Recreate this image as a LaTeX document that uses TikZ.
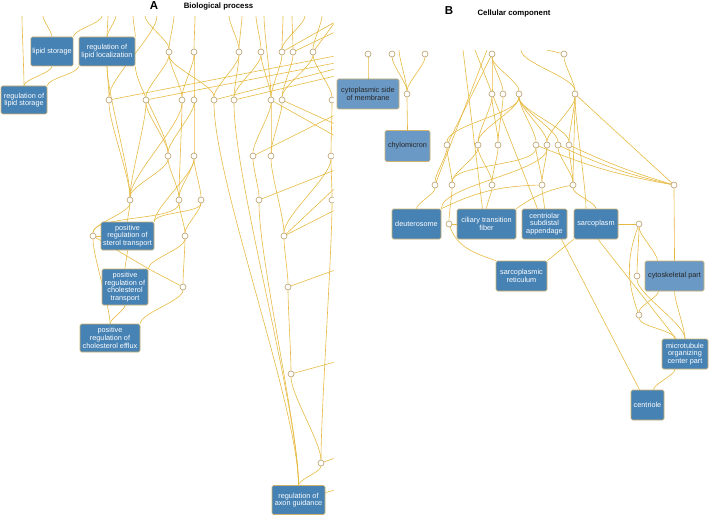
\documentclass[tikz,border=0pt]{standalone}
\usepackage{fontspec}
\setmainfont{Liberation Sans}
\usetikzlibrary{backgrounds}

\definecolor{edgegold}{RGB}{230,186,66}
\definecolor{dotrim}{RGB}{184,156,104}
\definecolor{termblue}{RGB}{70,130,180}
\definecolor{termlight}{RGB}{106,153,197}
\definecolor{termrim}{RGB}{208,178,110}

\tikzset{
  term/.style={draw=termrim, fill=termblue, text=white, rounded corners=1.5pt,
    line width=0.6pt, font=\fontsize{7.3}{7.7}\selectfont, align=center,
    inner sep=1.5pt, minimum height=29pt},
  termlt/.style={term, fill=termlight, text=black!85},
  dot/.style={circle, draw=dotrim, fill=white, inner sep=0pt, minimum size=6pt, line width=0.6pt},
  ed/.style={draw=edgegold, line width=0.6pt, out=-90, in=90, looseness=0.5},
  ln/.style={draw=edgegold, line width=0.6pt},
}

\begin{document}
\begin{tikzpicture}[x=1pt,y=1pt]
\useasboundingbox (0,0) rectangle (709,-516);

% titles
\node[font=\fontsize{11.5}{12}\selectfont\bfseries] (tagA) at (154,-6) {A};
\node[font=\fontsize{7.8}{8}\selectfont\bfseries] (titleA) at (218.5,-7) {Biological process};
\node[font=\fontsize{11.5}{12}\selectfont\bfseries] (tagB) at (449,-10.5) {B};
\node[font=\fontsize{7.8}{8}\selectfont\bfseries] (titleB) at (514,-13.5) {Cellular component};

% ---- A: biological process
\begin{scope}
  \clip (0,-17) rectangle (333.5,-516);
  \node[term, minimum width=42pt] (lipstor) at (52,-51.5) {lipid storage};
  \node[term, minimum width=56pt] (reglipl) at (107,-51.5) {regulation of\\lipid localization};
  \node[term, minimum width=46pt, minimum height=28pt] (reglips) at (24,-100) {regulation of\\lipid storage};
  \node[term, minimum width=53pt, minimum height=28pt] (possterol) at (127.5,-236) {positive\\regulation of\\sterol transport};
  \node[term, minimum width=46pt, minimum height=36pt] (poschol) at (125,-287) {positive\\regulation of\\cholesterol\\transport};
  \node[term, minimum width=60pt, minimum height=28pt] (poseff) at (110,-338) {positive\\regulation of\\cholesterol efflux};
  \node[term, minimum width=53pt] (axon) at (298.5,-500) {regulation of\\axon guidance};

  \node[dot] (a11) at (169,-52) {};
  \node[dot] (a12) at (194,-52) {};
  \node[dot] (a13) at (239,-52) {};
  \node[dot] (a14) at (261,-52) {};
  \node[dot] (a15) at (282,-52) {};
  \node[dot] (a16) at (293,-52) {};
  \node[dot] (a17) at (313,-52) {};
  \node[dot] (a21) at (109,-100) {};
  \node[dot] (a22) at (146,-100) {};
  \node[dot] (a23) at (182,-100) {};
  \node[dot] (a24) at (194,-100) {};
  \node[dot] (a25) at (214,-100) {};
  \node[dot] (a26) at (234,-100) {};
  \node[dot] (a27) at (271,-100) {};
  \node[dot] (a28) at (282,-100) {};
  \node[dot] (a29) at (332,-100) {};
  \node[dot] (a31) at (168,-156) {};
  \node[dot] (a32) at (194,-156) {};
  \node[dot] (a33) at (253,-156) {};
  \node[dot] (a34) at (271,-156) {};
  \node[dot] (a35) at (331,-156) {};
  \node[dot] (a41) at (130,-200) {};
  \node[dot] (a42) at (179,-200) {};
  \node[dot] (a43) at (201,-200) {};
  \node[dot] (a44) at (259,-200) {};
  \node[dot] (a45) at (332,-200) {};
  \node[dot] (a51) at (93,-236) {};
  \node[dot] (a52) at (185,-236) {};
  \node[dot] (a53) at (284,-236) {};
  \node[dot] (a61) at (183,-287) {};
  \node[dot] (a62) at (288,-287) {};
  \node[dot] (a63) at (291,-374) {};
  \node[dot] (a64) at (321,-463) {};
\end{scope}

% ---- B: cellular component
\begin{scope}
  \clip (335,-51) rectangle (709,-516);
  \node[termlt, minimum width=62pt, minimum height=30pt] (cytomem) at (368,-94) {cytoplasmic side\\of membrane};
  \node[termlt, minimum width=45pt, minimum height=31pt] (chylo) at (407.5,-146) {chylomicron};
  \node[term, minimum width=49pt, minimum height=30pt] (deut) at (416.5,-224) {deuterosome};
  \node[term, minimum width=59pt, minimum height=30pt] (cilfib) at (486.5,-224) {ciliary transition\\fiber};
  \node[term, minimum width=45pt, minimum height=30pt] (centapp) at (544.5,-224) {centriolar\\subdistal\\appendage};
  \node[term, minimum width=44pt, minimum height=30pt] (sarcop) at (596,-224) {sarcoplasm};
  \node[term, minimum width=51pt, minimum height=30pt] (sreti) at (521.5,-276) {sarcoplasmic\\reticulum};
  \node[termlt, minimum width=59pt, minimum height=30pt] (cytosk) at (674.5,-276) {cytoskeletal part};
  \node[term, minimum width=46pt, minimum height=30pt] (mtoc) at (685,-354) {microtubule\\organizing\\center part};
  \node[term, minimum width=33pt, minimum height=30pt] (centriole) at (647.5,-405) {centriole};

  \node[dot] (b11) at (368,-54) {};
  \node[dot] (b12) at (392,-54) {};
  \node[dot] (b13) at (425,-54) {};
  \node[dot] (b14) at (492,-54) {};
  \node[dot] (b15) at (564,-54) {};
  \node[dot] (b21) at (407,-94) {};
  \node[dot] (b22) at (492,-94) {};
  \node[dot] (b23) at (503,-94) {};
  \node[dot] (b24) at (519,-94) {};
  \node[dot] (b25) at (575,-94) {};
  \node[dot] (b31) at (447,-145) {};
  \node[dot] (b32) at (478,-145) {};
  \node[dot] (b33) at (498,-145) {};
  \node[dot] (b34) at (536,-145) {};
  \node[dot] (b35) at (547,-145) {};
  \node[dot] (b36) at (558,-145) {};
  \node[dot] (b37) at (569,-145) {};
  \node[dot] (b41) at (435,-185) {};
  \node[dot] (b42) at (452,-185) {};
  \node[dot] (b43) at (492,-185) {};
  \node[dot] (b44) at (542,-185) {};
  \node[dot] (b45) at (573,-185) {};
  \node[dot] (b46) at (674,-185) {};
  \node[dot] (b51) at (449,-224) {};
  \node[dot] (b52) at (639,-224) {};
  \node[dot] (b53) at (637,-276) {};
  \node[dot] (b54) at (639,-315) {};
\end{scope}

% ---- connectors (behind the nodes)
\begin{pgfonlayer}{background}
\begin{scope}
  \clip (0,-17) rectangle (333.5,-516);
  \coordinate (tA1) at (22,-16);
  \coordinate (tA2) at (43,-16);
  \coordinate (tA3) at (102,-16);
  \coordinate (tA4) at (108,-16);
  \coordinate (tA5) at (116,-16);
  \coordinate (tA6) at (133,-16);
  \coordinate (tA7) at (145,-16);
  \coordinate (tA8) at (157,-16);
  \coordinate (tA9) at (174,-16);
  \coordinate (tA10) at (195,-16);
  \coordinate (tA11) at (229,-16);
  \coordinate (tA12) at (242,-16);
  \coordinate (tA13) at (256,-16);
  \coordinate (tA14) at (264,-16);
  \coordinate (tA15) at (283,-16);
  \coordinate (tA16) at (292,-16);
  \coordinate (tA17) at (305,-16);
  \coordinate (tA18) at (322,-16);
  \coordinate (rA1) at (335,-22);
  \coordinate (rA2) at (335,-32);
  \coordinate (rA3) at (335,-56);
  \coordinate (rA4) at (335,-63);
  \coordinate (rA5) at (335,-69);
  \coordinate (rA6) at (335,-76);
  \coordinate (rA7) at (335,-115);
  \coordinate (rA8) at (335,-124);
  \coordinate (rA9) at (335,-136);
  \coordinate (rA10) at (335,-170);
  \coordinate (rA11) at (335,-188);
  \coordinate (rA12) at (335,-210);
  \coordinate (rA13) at (335,-270);
  \coordinate (rA14) at (335,-362);
  \coordinate (rA15) at (335,-458);
  \coordinate (rA16) at (335,-490);

  \draw[ed] (tA1) to (reglips);
  \draw[ed] (tA2) to (lipstor);
  \draw[ed] (tA3) to (lipstor.north east);
  \draw[ed] (lipstor) to (reglips);
  \draw[ed] (reglipl.south west) to (reglips.north east);
  \draw[ed] (tA4) to (reglipl);
  \draw[ed] (tA5) to (reglipl);
  \draw[ed] (tA6) to (reglipl.north east);
  \draw[ed] (reglipl) to (a21);
  \draw[ed] (reglipl.south east) to (a31);
  \draw[ed] (reglipl) to (a41);

  \draw[ed] (tA7) to (a11);
  \draw[ed] (tA9) to (a11);
  \draw[ed] (tA10) to (a12);
  \draw[ed] (tA8) to (a21);
  \draw[ed] (a11) to (a22);
  \draw[ed] (a11) to (a23);
  \draw[ed] (a11) to (a25);
  \draw[ed] (a12) to (a23);
  \draw[ed] (a12) to (a24);
  \draw[ed] (tA11) to (a13);
  \draw[ed] (tA12) to (a13);
  \draw[ed] (tA13) to (a14);
  \draw[ed] (tA14) to (a27);
  \draw[ed] (tA15) to (a15);
  \draw[ed] (tA16) to (a16);
  \draw[ed] (tA17) to (a15);
  \draw[ed] (tA18) to (a17);
  \draw[ln] (a15) -- (rA1);
  \draw[ln] (a16) -- (rA2);
  \draw[ln] (a17) -- (rA1);

  \draw[ed] (a13) to (a26);
  \draw[ed] (a13) to (a25);
  \draw[ed] (a14) to (a26);
  \draw[ed] (a14) to (a27);
  \draw[ed] (a15) to (a27);
  \draw[ed] (a16) to (a28);
  \draw[ed] (a17) to (a28);
  \draw[ed] (a17) to (a29);
  \draw[ln] (a21) -- (rA3);
  \draw[ln] (a22) -- (rA4);
  \draw[ln] (a25) -- (rA5);
  \draw[ln] (a26) -- (rA6);

  \draw[ed] (a27) to (a33);
  \draw[ed] (a27) to (a34);
  \draw[ed] (a28) to (a34);
  \draw[ln] (a28) -- (rA8);
  \draw[ln] (a27) -- (rA9);
  \draw[ln] (rA7) -- (a33);
  \draw[ln] (rA10) -- (a44);
  \draw[ln] (rA11) -- (a53);
  \draw[ln] (rA12) -- (a53);
  \draw[ed] (a33) to (a44);
  \draw[ed] (a34) to (a53);
  \draw[ed] (a29) to (a35);
  \draw[ed] (a35) to (a45);
  \draw[ed] (a35) to (a53);
  \draw[ed] (a45) to (a64);

  \draw[ed] (a25) to (axon);
  \draw[ed] (a26) to (axon);
  \draw[ed] (a44) to (axon);
  \draw[ed] (a53) to (a62);
  \draw[ed] (a62) to (a63);
  \draw[ed] (a63) to (a64);
  \draw[ed] (a64) to (axon);
  \draw[ln] (rA13) -- (a62);
  \draw[ln] (rA14) -- (a63);
  \draw[ln] (rA15) -- (a64);
  \draw[ln] (rA16) -- (axon);

  \draw[ed] (a21) to (a41);
  \draw[ed] (a22) to (a41);
  \draw[ed] (a22) to (a31);
  \draw[ed] (a23) to (a41);
  \draw[ed] (a23) to (a42);
  \draw[ed] (a24) to (a31);
  \draw[ed] (a24) to (a32);
  \draw[ed] (a31) to (a41);
  \draw[ed] (a31) to (a42);
  \draw[ed] (a32) to (a42);
  \draw[ed] (a32) to (a43);
  \draw[ed] (a32) to (possterol.north east);
  \draw[ed] (a41) to (possterol);
  \draw[ed] (a41) to (a51);
  \draw[ed] (a42) to (a51);
  \draw[ed] (a42) to (a52);
  \draw[ed] (a43) to (a52);
  \draw[ed] (a43) to (possterol.north east);
  \draw[ed] (a52) to (a61);
  \draw[ed] (a52) to (poschol.north east);
  \draw[ed] (possterol) to (poschol);
  \draw[ed] (poschol) to (poseff);
  \draw[ed] (a51) to (poseff);
  \draw[ed] (a61) to (poseff.north east);
  \draw[ln] (a51) -- (possterol);
  \draw[ln] (a51) -- (poschol.north east);
  \draw[ln] (a61) -- (poschol.north east);
\end{scope}

\begin{scope}
  \clip (335,-51) rectangle (709,-516);
  \coordinate (tB1) at (399,-50);
  \coordinate (tB2) at (463,-50);
  \coordinate (tB3) at (475,-50);
  \coordinate (tB4) at (487,-50);
  \coordinate (tB5) at (521,-50);
  \coordinate (tB6) at (547,-50);

  \draw[ed] (b11) to (cytomem);
  \draw[ed] (b12) to (b21);
  \draw[ed] (tB1) to (b21);
  \draw[ed] (b13) to (b21);
  \draw[ed] (b21) to (chylo);
  \draw[ln] (tB2) -- ([xshift=-4pt]cilfib.north);
  \draw[ln] (tB3) -- ([xshift=-7pt]centapp.north);
  \draw[ln] (tB4) -- (b41);
  \draw[ed] (tB5) to (b25);
  \draw[ln] (tB6) -- (b15);
  \draw[ed] (b15) to (b25);

  \draw[ln] (b14) -- (b31);
  \draw[ed] (b14) to (b22);
  \draw[ed] (b14) to (b23);
  \draw[ed] (b14) to (b24);
  \draw[ed] (b22) to (b32);
  \draw[ed] (b22) to (b33);
  \draw[ed] (b23) to (b33);
  \draw[ed] (b24) to (b31);
  \draw[ed] (b24) to (b32);
  \draw[ed] (b24) to (b34);
  \draw[ed] (b24) to (b35);
  \draw[ed] (b24) to (b36);
  \draw[ed] (b24) to (b37);
  \draw[ln] (b25) -- (b46);
  \draw[ed] (b25) to (b35);
  \draw[ed] (b25) to (b37);
  \draw[ed] (b25) to (b45);
  \draw[ed] (b25) to ([xshift=-10pt]sarcop.north);

  \draw[ed] (b31) to (b41);
  \draw[ed] (b31) to (b42);
  \draw[ed] (b32) to (b42);
  \draw[ed] (b32) to (b43);
  \draw[ed] (b33) to (b43);
  \draw[ed] (b34) to (b42);
  \draw[ed] (b34) to (b44);
  \draw[ed] (b35) to (b44);
  \draw[ed] (b36) to (b45);
  \draw[ed] (b37) to (b45);
  \draw[ed] (b35) to (deut.north east);
  \draw[ln] (b34) to[bend right=6] (b46);
  \draw[ln] (b36) to[bend right=6] (b46);
  \draw[ln] (b37) to[bend right=4] (b46);

  \draw[ed] (b41) to (deut);
  \draw[ed] (b42) to (b51);
  \draw[ed] (b43) to (cilfib);
  \draw[ed] (b44) to (centapp);
  \draw[ed] (b45) to (sarcop);
  \draw[ln] (b44) to[bend right=12] (deut.north east);
  \draw[ln] (b45) to[bend right=12] (cilfib.north east);
  \draw[ln] (b51) -- (cilfib);
  \draw[ln] (b51) to[out=-70,in=160] (sreti.north west);
  \draw[ln] (sarcop.south west) -- (sreti.north east);

  \draw[ed] (b46) to (cytosk);
  \draw[ln] (sarcop) -- (b52);
  \draw[ed] (b52) to ([xshift=-17pt]cytosk.north);
  \draw[ed] (b52) to (b53);
  \draw[ln] (b52) to[out=-110,in=110] (b54);
  \draw[ed] (b53) to (mtoc);
  \draw[ed] ([xshift=-16pt]cytosk.south) to (b54);
  \draw[ed] (b54) to ([xshift=-10pt]mtoc.north);
  \draw[ln] ([xshift=2pt]sarcop.south) -- ([xshift=-9pt]mtoc.north);
  \draw[ln] ([xshift=17pt]centapp.south) -- ([xshift=-8pt]centriole.north);
  \draw[ed] ([xshift=-10pt]mtoc.south) to ([xshift=6pt]centriole.north);
  \draw[ed] (cytosk) to (mtoc);
\end{scope}
\end{pgfonlayer}
\end{tikzpicture}
\end{document}
